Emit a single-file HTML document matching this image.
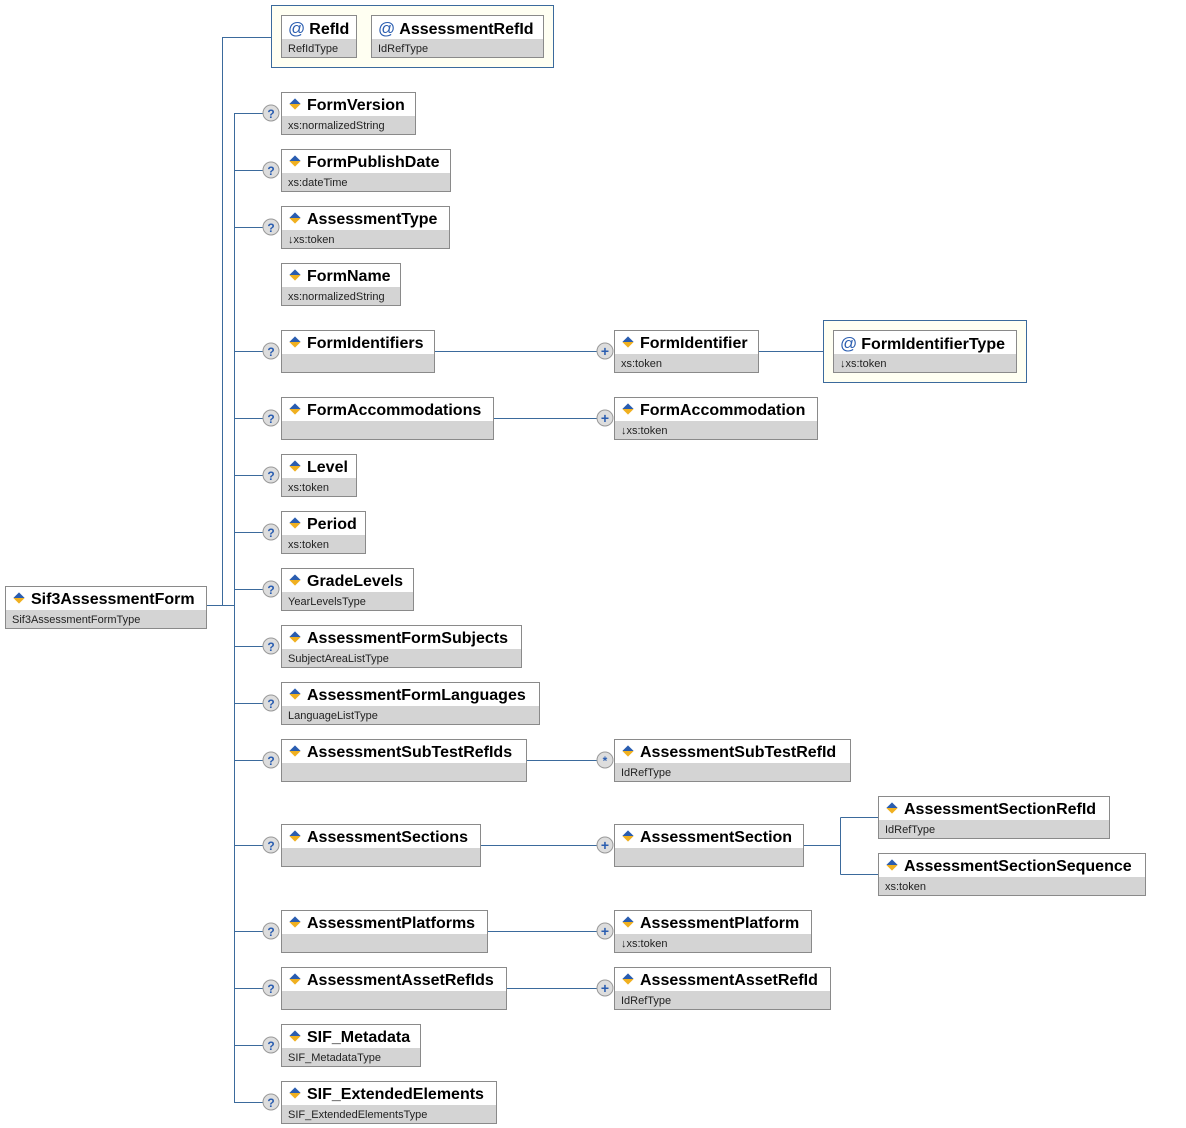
<!DOCTYPE html>
<html><head><meta charset="utf-8"><style>
body{margin:0;width:1186px;height:1128px;background:#fff;position:relative;overflow:hidden;font-family:"Liberation Sans",Arial,sans-serif}
.b{position:absolute;height:43px;box-sizing:border-box;border:1px solid #8a8a8a;background:#d4d4d4}
.t{height:23px;background:#fff;font-weight:bold;font-size:16px;line-height:26px;padding-left:6px;white-space:nowrap;color:#000}
.g{height:18px;font-size:11px;line-height:20px;padding-left:6px;color:#222;white-space:nowrap}
.i{display:inline-block;width:8px;height:8px;transform:rotate(45deg);background:linear-gradient(135deg,#2a5db0 50%,#f0b020 50%);margin:0 8px 3px 3px;vertical-align:middle}
.a{color:#2a5db0;font-size:17px;margin-right:4px;font-weight:normal}
.c{position:absolute;background:#fffff2;border:1px solid #3b6a9c;box-sizing:border-box}
</style></head><body>
<svg width="1186" height="1128" style="position:absolute;left:0;top:0" fill="none" stroke="#3b6a9c" stroke-width="1">
<path d="M206.5 605.5H222.5V37.5H271"/>
<path d="M206 605.5H234.5M234.5 113.5V1102.5"/>
<path d="M234 113.5H263M234 170.5H263M234 227.5H263M234 351.5H263M234 418.5H263M234 475.5H263M234 532.5H263M234 589.5H263M234 646.5H263M234 703.5H263M234 760.5H263M234 845.5H263M234 931.5H263M234 988.5H263M234 1045.5H263M234 1102.5H263"/>
<path d="M434 351.5H597M758 351.5H823M493 418.5H597M526 760.5H597M480 845.5H597M803 845.5H840.5M840.5 817.5V874.5M840.5 817.5H878M840.5 874.5H878M487 931.5H597M506 988.5H597"/>
<g stroke="#999" fill="#ddd">
<circle cx="271" cy="113" r="8"/><circle cx="271" cy="170" r="8"/><circle cx="271" cy="227" r="8"/><circle cx="271" cy="351" r="8"/><circle cx="271" cy="418" r="8"/><circle cx="271" cy="475" r="8"/><circle cx="271" cy="532" r="8"/><circle cx="271" cy="589" r="8"/><circle cx="271" cy="646" r="8"/><circle cx="271" cy="703" r="8"/><circle cx="271" cy="760" r="8"/><circle cx="271" cy="845" r="8"/><circle cx="271" cy="931" r="8"/><circle cx="271" cy="988" r="8"/><circle cx="271" cy="1045" r="8"/><circle cx="271" cy="1102" r="8"/>
<circle cx="605" cy="351" r="8"/><circle cx="605" cy="418" r="8"/><circle cx="605" cy="760" r="8"/><circle cx="605" cy="845" r="8"/><circle cx="605" cy="931" r="8"/><circle cx="605" cy="988" r="8"/>
</g>
<g fill="#2a5db0" stroke="none" font-family="Liberation Sans" font-weight="bold" font-size="12" text-anchor="middle">
<text x="271" y="118">?</text><text x="271" y="175">?</text><text x="271" y="232">?</text><text x="271" y="356">?</text><text x="271" y="423">?</text><text x="271" y="480">?</text><text x="271" y="537">?</text><text x="271" y="594">?</text><text x="271" y="651">?</text><text x="271" y="708">?</text><text x="271" y="765">?</text><text x="271" y="850">?</text><text x="271" y="936">?</text><text x="271" y="993">?</text><text x="271" y="1050">?</text><text x="271" y="1107">?</text>
<text x="605" y="356" font-size="14">+</text><text x="605" y="423" font-size="14">+</text><text x="605" y="765">*</text><text x="605" y="850" font-size="14">+</text><text x="605" y="936" font-size="14">+</text><text x="605" y="993" font-size="14">+</text>
</g>
</svg>
<div class="c" style="left:271px;top:5px;width:283px;height:63px"></div>
<div class="c" style="left:823px;top:320px;width:204px;height:63px"></div>

<div class="b" style="left:5px;top:586px;width:202px"><div class="t"><span class="i"></span>Sif3AssessmentForm</div><div class="g">Sif3AssessmentFormType</div></div>
<div class="b" style="left:281px;top:15px;width:76px"><div class="t"><span class="a">@</span>RefId</div><div class="g">RefIdType</div></div>
<div class="b" style="left:371px;top:15px;width:173px"><div class="t"><span class="a">@</span>AssessmentRefId</div><div class="g">IdRefType</div></div>
<div class="b" style="left:281px;top:92px;width:135px"><div class="t"><span class="i"></span>FormVersion</div><div class="g">xs:normalizedString</div></div>
<div class="b" style="left:281px;top:149px;width:170px"><div class="t"><span class="i"></span>FormPublishDate</div><div class="g">xs:dateTime</div></div>
<div class="b" style="left:281px;top:206px;width:169px"><div class="t"><span class="i"></span>AssessmentType</div><div class="g">↓xs:token</div></div>
<div class="b" style="left:281px;top:263px;width:120px"><div class="t"><span class="i"></span>FormName</div><div class="g">xs:normalizedString</div></div>
<div class="b" style="left:281px;top:330px;width:154px"><div class="t"><span class="i"></span>FormIdentifiers</div><div class="g"></div></div>
<div class="b" style="left:614px;top:330px;width:145px"><div class="t"><span class="i"></span>FormIdentifier</div><div class="g">xs:token</div></div>
<div class="b" style="left:833px;top:330px;width:184px"><div class="t"><span class="a">@</span>FormIdentifierType</div><div class="g">↓xs:token</div></div>
<div class="b" style="left:281px;top:397px;width:213px"><div class="t"><span class="i"></span>FormAccommodations</div><div class="g"></div></div>
<div class="b" style="left:614px;top:397px;width:204px"><div class="t"><span class="i"></span>FormAccommodation</div><div class="g">↓xs:token</div></div>
<div class="b" style="left:281px;top:454px;width:76px"><div class="t"><span class="i"></span>Level</div><div class="g">xs:token</div></div>
<div class="b" style="left:281px;top:511px;width:85px"><div class="t"><span class="i"></span>Period</div><div class="g">xs:token</div></div>
<div class="b" style="left:281px;top:568px;width:133px"><div class="t"><span class="i"></span>GradeLevels</div><div class="g">YearLevelsType</div></div>
<div class="b" style="left:281px;top:625px;width:241px"><div class="t"><span class="i"></span>AssessmentFormSubjects</div><div class="g">SubjectAreaListType</div></div>
<div class="b" style="left:281px;top:682px;width:259px"><div class="t"><span class="i"></span>AssessmentFormLanguages</div><div class="g">LanguageListType</div></div>
<div class="b" style="left:281px;top:739px;width:246px"><div class="t"><span class="i"></span>AssessmentSubTestRefIds</div><div class="g"></div></div>
<div class="b" style="left:614px;top:739px;width:237px"><div class="t"><span class="i"></span>AssessmentSubTestRefId</div><div class="g">IdRefType</div></div>
<div class="b" style="left:281px;top:824px;width:200px"><div class="t"><span class="i"></span>AssessmentSections</div><div class="g"></div></div>
<div class="b" style="left:614px;top:824px;width:190px"><div class="t"><span class="i"></span>AssessmentSection</div><div class="g"></div></div>
<div class="b" style="left:878px;top:796px;width:232px"><div class="t"><span class="i"></span>AssessmentSectionRefId</div><div class="g">IdRefType</div></div>
<div class="b" style="left:878px;top:853px;width:268px"><div class="t"><span class="i"></span>AssessmentSectionSequence</div><div class="g">xs:token</div></div>
<div class="b" style="left:281px;top:910px;width:207px"><div class="t"><span class="i"></span>AssessmentPlatforms</div><div class="g"></div></div>
<div class="b" style="left:614px;top:910px;width:198px"><div class="t"><span class="i"></span>AssessmentPlatform</div><div class="g">↓xs:token</div></div>
<div class="b" style="left:281px;top:967px;width:226px"><div class="t"><span class="i"></span>AssessmentAssetRefIds</div><div class="g"></div></div>
<div class="b" style="left:614px;top:967px;width:217px"><div class="t"><span class="i"></span>AssessmentAssetRefId</div><div class="g">IdRefType</div></div>
<div class="b" style="left:281px;top:1024px;width:140px"><div class="t"><span class="i"></span>SIF_Metadata</div><div class="g">SIF_MetadataType</div></div>
<div class="b" style="left:281px;top:1081px;width:216px"><div class="t"><span class="i"></span>SIF_ExtendedElements</div><div class="g">SIF_ExtendedElementsType</div></div>
</body></html>
